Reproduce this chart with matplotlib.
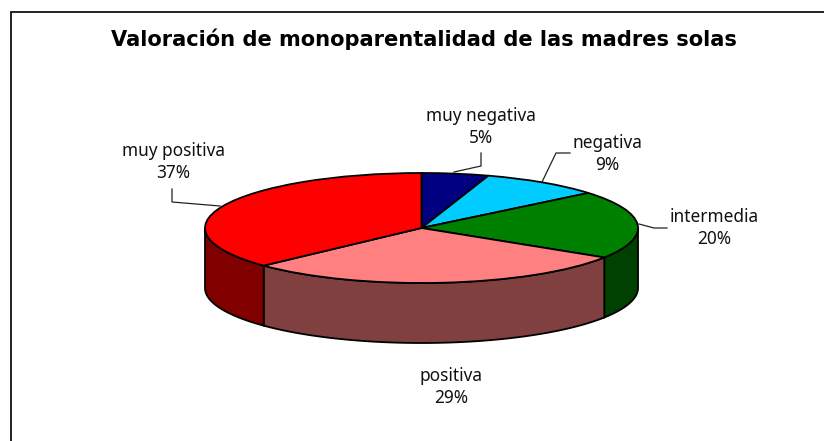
import numpy as np
import matplotlib
matplotlib.use("Agg")
import matplotlib.pyplot as plt
from matplotlib.lines import Line2D

title = "Valoración de monoparentalidad de las madres solas"
categories = ["muy negativa", "negativa", "intermedia", "positiva", "muy positiva"]
values = [5, 9, 20, 29, 37]
top_colors = ["#000080", "#00CCFF", "#008000", "#FF8080", "#FF0000"]
side_colors = ["#000040", "#006680", "#004000", "#804040", "#800000"]

W, H = 824, 441
CX, CY, RX, RY, DEPTH = 421.5, 228, 216.5, 55, 60

fig = plt.figure(figsize=(W / 100, H / 100), dpi=100, facecolor="white")
ax = fig.add_axes([0, 0, 1, 1])

# pie on a unit circle, flattened by the axes limits
ax.pie(values, colors=top_colors, startangle=90, counterclock=False, radius=1,
       wedgeprops=dict(edgecolor="black", linewidth=1.3, zorder=3), normalize=True)
ax.set_aspect("auto")
ax.set_xlim((0 - CX) / RX, (W - CX) / RX)
ax.set_ylim((CY - H) / RY, (CY - 0) / RY)
ax.set_axis_off()

# visible rim of the disc
d = DEPTH / RY
edges = np.cumsum([0] + values) / sum(values) * 2 * np.pi  # clockwise from top
for i in range(len(values)):
    a0, a1 = max(edges[i], np.pi / 2), min(edges[i + 1], 3 * np.pi / 2)
    if a1 <= a0:
        continue
    t = np.linspace(a0, a1, 200)
    x, y = np.sin(t), np.cos(t)
    ax.fill(np.r_[x, x[::-1]], np.r_[y, y[::-1] - d],
            facecolor=side_colors[i], edgecolor="black", linewidth=1.3, zorder=2)

def px(x, y):
    return (x - CX) / RX, (CY - y) / RY

# outer border: only the left and top sides are inside the picture
fig.add_artist(Line2D([10.5 / W, 10.5 / W, 1], [0, 1 - 11.5 / H, 1 - 11.5 / H],
                      color="#111111", linewidth=1.3, solid_joinstyle="miter"))

fig.text(423.5 / W, 1 - 39.5 / H, title, ha="center", va="center",
         fontsize=15.1, fontweight="bold", family="DejaVu Sans", color="black")

label_pos = [(481, 127), (607, 154), (714, 228), (451, 387), (173, 162)]
for name, v, (lx, ly) in zip(categories, values, label_pos):
    fig.text(lx / W, 1 - ly / H, f"{name}\n{v}%", ha="center", va="center",
             fontsize=12.4, family="Noto Sans", color="#111111", linespacing=1.32)

# leader lines
leaders = [
    ([454, 481, 481], [172, 166, 153]),
    ([542, 556, 570], [182, 153, 153]),
    ([639, 654, 667], [224, 228, 228]),
    ([172, 172, 220], [189, 202, 206]),
]
for xs, ys in leaders:
    lx, ly = zip(*(px(a, b) for a, b in zip(xs, ys)))
    ax.plot(lx, ly, color="#222222", linewidth=0.9, zorder=1)

fig.savefig("out.png", dpi=100, facecolor="white")
